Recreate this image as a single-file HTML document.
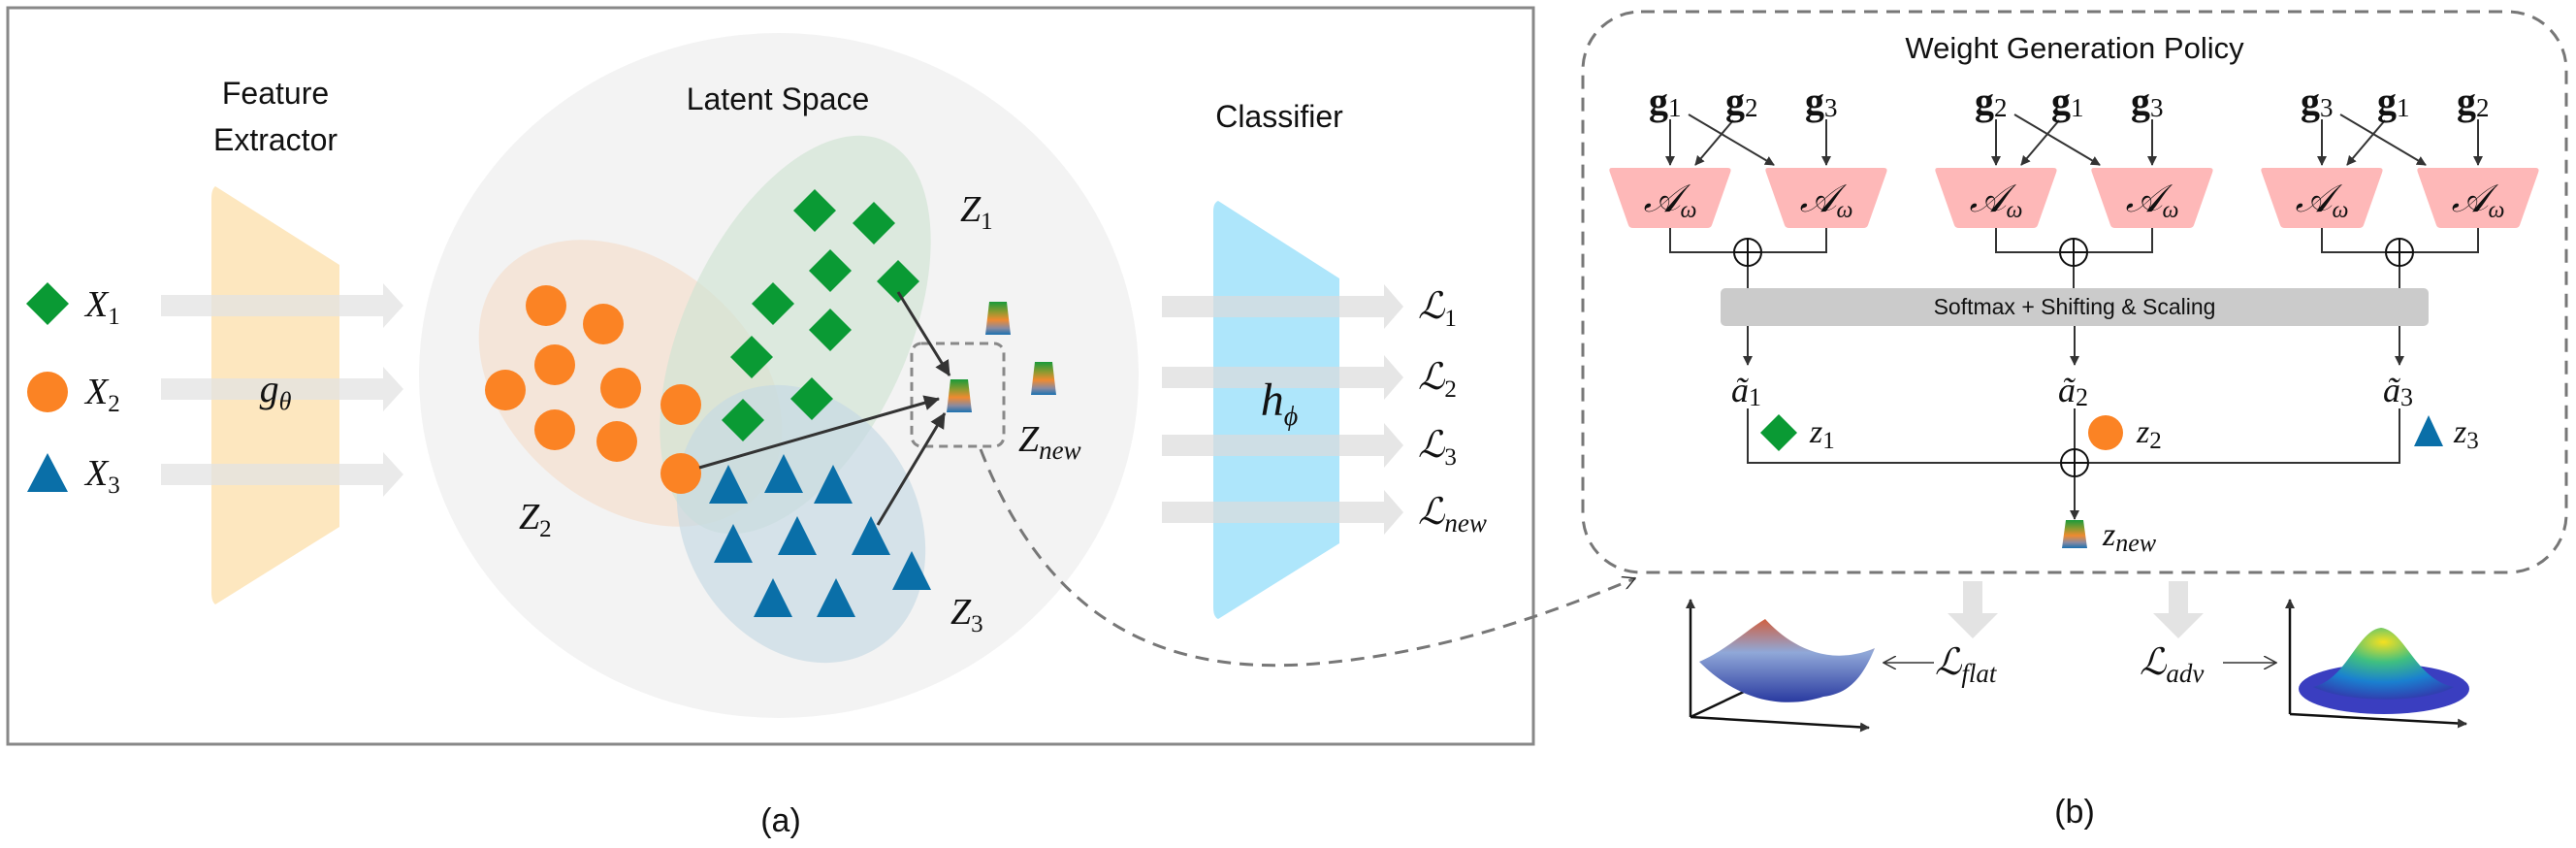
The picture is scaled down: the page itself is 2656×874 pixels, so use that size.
<!DOCTYPE html>
<html><head><meta charset="utf-8"><style>
html,body{margin:0;padding:0;background:#fff;width:2656px;height:874px;overflow:hidden}
svg{display:block}
.s{font-family:"Liberation Sans",sans-serif;fill:#111}
.m{font-family:"Liberation Serif",serif;font-style:italic;fill:#111}
.b{font-family:"Liberation Serif",serif;font-weight:bold;fill:#111}
</style></head><body>
<svg width="2656" height="874" viewBox="0 0 2656 874" xmlns="http://www.w3.org/2000/svg">
<defs>
<linearGradient id="zn" x1="0" y1="0" x2="0" y2="1">
<stop offset="0" stop-color="#1a9a3a"/><stop offset="0.3" stop-color="#8a9a30"/><stop offset="0.55" stop-color="#f08a30"/><stop offset="0.8" stop-color="#8a8aa0"/><stop offset="1" stop-color="#1a70b0"/></linearGradient>
<marker id="ah" markerWidth="10" markerHeight="10" refX="9" refY="5" orient="auto" markerUnits="userSpaceOnUse"><path d="M0,0 L10,5 L0,10 Z" fill="#333"/></marker>
<marker id="ah2" markerWidth="16" markerHeight="16" refX="15" refY="8" orient="auto" markerUnits="userSpaceOnUse"><path d="M0,0 L16,8 L0,16 Z" fill="#333"/></marker>
<marker id="oa" markerWidth="14" markerHeight="14" refX="13" refY="7" orient="auto" markerUnits="userSpaceOnUse"><path d="M0,0 L13,7 L0,14" fill="none" stroke="#333" stroke-width="1.5"/></marker>
<radialGradient id="bell" cx="0.5" cy="0.2" r="0.8"><stop offset="0" stop-color="#f5e020"/><stop offset="0.35" stop-color="#40c080"/><stop offset="0.7" stop-color="#1a80d0"/><stop offset="1" stop-color="#3040b0"/></radialGradient>
<linearGradient id="flat" x1="0" y1="0" x2="0" y2="1"><stop offset="0" stop-color="#d06040"/><stop offset="0.4" stop-color="#90a8d8"/><stop offset="1" stop-color="#2a3aa0"/></linearGradient>
</defs>

<rect x="8" y="8" width="1573" height="759" fill="#fff" stroke="#888" stroke-width="3"/>
<ellipse cx="803" cy="387" rx="371" ry="353" fill="#f3f3f3"/>
<path d="M222,192 L350,273 L350,543 L222,623 Q218,620 218,610 L218,205 Q218,195 222,192Z" fill="#fde7bf"/>
<text class="s" x="284" y="107" font-size="32" text-anchor="middle">Feature</text>
<text class="s" x="284" y="155" font-size="32" text-anchor="middle">Extractor</text>
<g fill="#e3e3e3" opacity="0.75">
<path d="M166,304 L395,304 L395,292 L416,315 L395,338 L395,326 L166,326Z"/>
<path d="M166,390 L395,390 L395,378 L416,401 L395,424 L395,412 L166,412Z"/>
<path d="M166,478 L395,478 L395,466 L416,489 L395,512 L395,500 L166,500Z"/>
</g>
<text class="m" x="284" y="414" font-size="40" text-anchor="middle">g<tspan font-size="26" dy="8">θ</tspan></text>
<path d="M49,291 L71,313 L49,335 L27,313Z" fill="#0a9a34"/>
<circle cx="49" cy="404" r="21" fill="#fb8324"/>
<path d="M49,467 L70,507 L28,507Z" fill="#0a6fa8"/>
<text class="m" x="88" y="326" font-size="38">X<tspan font-size="25" dy="8" font-style="normal">1</tspan></text>
<text class="m" x="88" y="416" font-size="38">X<tspan font-size="25" dy="8" font-style="normal">2</tspan></text>
<text class="m" x="88" y="500" font-size="38">X<tspan font-size="25" dy="8" font-style="normal">3</tspan></text>
<text class="s" x="802" y="113" font-size="32" text-anchor="middle">Latent Space</text>
<ellipse cx="650" cy="395" rx="175" ry="125" transform="rotate(40 650 395)" fill="#f5dcc8" opacity="0.6"/>
<ellipse cx="820" cy="345" rx="220" ry="115" transform="rotate(-65 820 345)" fill="#cfe4d2" opacity="0.65"/>
<ellipse cx="826" cy="540" rx="150" ry="120" transform="rotate(60 826 540)" fill="#c5d8e3" opacity="0.65"/>
<g fill="#fb8324">
<circle cx="563" cy="315" r="21"/><circle cx="622" cy="334" r="21"/><circle cx="572" cy="376" r="21"/><circle cx="521" cy="402" r="21"/><circle cx="640" cy="400" r="21"/><circle cx="572" cy="443" r="21"/><circle cx="636" cy="455" r="21"/><circle cx="702" cy="417" r="21"/><circle cx="702" cy="488" r="21"/>
</g>
<g fill="#0a9a34">
<path d="M840,195 l22,22 l-22,22 l-22,-22Z"/><path d="M901,208 l22,22 l-22,22 l-22,-22Z"/><path d="M856,257 l22,22 l-22,22 l-22,-22Z"/><path d="M926,268 l22,22 l-22,22 l-22,-22Z"/><path d="M797,291 l22,22 l-22,22 l-22,-22Z"/><path d="M856,318 l22,22 l-22,22 l-22,-22Z"/><path d="M775,346 l22,22 l-22,22 l-22,-22Z"/><path d="M837,389 l22,22 l-22,22 l-22,-22Z"/><path d="M766,411 l22,22 l-22,22 l-22,-22Z"/>
</g>
<g fill="#0a6fa8">
<path d="M751,479 l20,40 l-40,0Z"/><path d="M808,468 l20,40 l-40,0Z"/><path d="M859,479 l20,40 l-40,0Z"/><path d="M756,540 l20,40 l-40,0Z"/><path d="M822,532 l20,40 l-40,0Z"/><path d="M898,532 l20,40 l-40,0Z"/><path d="M940,568 l20,40 l-40,0Z"/><path d="M797,596 l20,40 l-40,0Z"/><path d="M862,596 l20,40 l-40,0Z"/>
</g>
<text class="m" x="990" y="228" font-size="38">Z<tspan font-size="25" dy="8" font-style="normal">1</tspan></text>
<text class="m" x="535" y="545" font-size="38">Z<tspan font-size="25" dy="8" font-style="normal">2</tspan></text>
<text class="m" x="980" y="643" font-size="38">Z<tspan font-size="25" dy="8" font-style="normal">3</tspan></text>
<text class="m" x="1050" y="465" font-size="38">Z<tspan font-size="27" dy="8">new</tspan></text>
<path d="M1020,311 L1038,311 L1042,345 L1016,345Z" fill="url(#zn)"/>
<path d="M1067,373 L1085,373 L1089,407 L1063,407Z" fill="url(#zn)"/>
<path d="M980,391 L998,391 L1002,425 L976,425Z" fill="url(#zn)"/>
<rect x="940" y="354" width="95" height="106" rx="10" fill="none" stroke="#888" stroke-width="3" stroke-dasharray="9,6"/>
<line x1="926" y1="301" x2="979" y2="387" stroke="#333" stroke-width="3" marker-end="url(#ah2)"/>
<line x1="721" y1="482" x2="968" y2="411" stroke="#333" stroke-width="3" marker-end="url(#ah2)"/>
<line x1="905" y1="541" x2="974" y2="426" stroke="#333" stroke-width="3" marker-end="url(#ah2)"/>
<text class="s" x="1319" y="131" font-size="32" text-anchor="middle">Classifier</text>
<path d="M1256,207 L1381,287 L1381,560 L1256,638 Q1251,636 1251,626 L1251,218 Q1251,209 1256,207Z" fill="#aee6fb"/>
<g fill="#dcdcdc" opacity="0.7">
<path d="M1198,305 L1427,305 L1427,293 L1447,316 L1427,339 L1427,327 L1198,327Z"/>
<path d="M1198,378 L1427,378 L1427,366 L1447,389 L1427,412 L1427,400 L1198,400Z"/>
<path d="M1198,448 L1427,448 L1427,436 L1447,459 L1427,482 L1427,470 L1198,470Z"/>
<path d="M1198,517 L1427,517 L1427,505 L1447,528 L1427,551 L1427,539 L1198,539Z"/>
</g>
<text class="m" x="1319" y="428" font-size="48" text-anchor="middle">h<tspan font-size="28" dy="10">ϕ</tspan></text>
<text class="m" x="1462" y="328" font-size="38">ℒ<tspan font-size="25" dy="8" font-style="normal">1</tspan></text>
<text class="m" x="1462" y="401" font-size="38">ℒ<tspan font-size="25" dy="8" font-style="normal">2</tspan></text>
<text class="m" x="1462" y="471" font-size="38">ℒ<tspan font-size="25" dy="8" font-style="normal">3</tspan></text>
<text class="m" x="1462" y="540" font-size="38">ℒ<tspan font-size="27" dy="8">new</tspan></text>
<text class="s" x="805" y="857" font-size="34" text-anchor="middle">(a)</text>

<path d="M1011,463 C1080,640 1200,700 1368,683 C1480,672 1580,640 1686,596" fill="none" stroke="#777" stroke-width="3" stroke-dasharray="14,9" marker-end="url(#oa)"/>

<rect x="1632" y="12" width="1014" height="578" rx="60" fill="none" stroke="#777" stroke-width="3" stroke-dasharray="14,9"/>
<text class="s" x="2139" y="60" font-size="31" text-anchor="middle">Weight Generation Policy</text>
<g id="grp">
<path d="M1662,173 L1781,173 Q1786,173 1784,178 L1765,232 Q1764,235 1760,235 L1684,235 Q1680,235 1679,232 L1660,178 Q1658,173 1662,173Z" fill="#feb8b8"/>
<path d="M1823,173 L1942,173 Q1947,173 1945,178 L1926,232 Q1925,235 1921,235 L1845,235 Q1841,235 1840,232 L1821,178 Q1819,173 1823,173Z" fill="#feb8b8"/>
<text class="m" x="1722" y="218" font-size="40" text-anchor="middle">𝒜<tspan font-size="24" dy="6">ω</tspan></text>
<text class="m" x="1883" y="218" font-size="40" text-anchor="middle">𝒜<tspan font-size="24" dy="6">ω</tspan></text>
<line x1="1722" y1="123" x2="1722" y2="170" stroke="#333" stroke-width="2" marker-end="url(#ah)"/>
<line x1="1883" y1="123" x2="1883" y2="170" stroke="#333" stroke-width="2" marker-end="url(#ah)"/>
<line x1="1741" y1="118" x2="1829" y2="170" stroke="#333" stroke-width="2" marker-end="url(#ah)"/>
<line x1="1787" y1="124" x2="1748" y2="170" stroke="#333" stroke-width="2" marker-end="url(#ah)"/>
<polyline points="1722,235 1722,260 1883,260 1883,235" fill="none" stroke="#333" stroke-width="2"/>
<line x1="1802" y1="260" x2="1802" y2="297" stroke="#333" stroke-width="2"/>
<ellipse cx="1802" cy="260" rx="14" ry="14" fill="#fff" stroke="#111" stroke-width="2"/>
<line x1="1788" y1="260" x2="1816" y2="260" stroke="#111" stroke-width="2"/>
<line x1="1802" y1="246" x2="1802" y2="274" stroke="#111" stroke-width="2"/>
</g>
<use href="#grp" transform="translate(336,0)"/>
<use href="#grp" transform="translate(672,0)"/>
<text class="b" x="1700" y="118" font-size="40">g<tspan font-weight="normal" font-size="27" dy="2">1</tspan></text>
<text class="b" x="1779" y="118" font-size="40">g<tspan font-weight="normal" font-size="27" dy="2">2</tspan></text>
<text class="b" x="1861" y="118" font-size="40">g<tspan font-weight="normal" font-size="27" dy="2">3</tspan></text>
<text class="b" x="2036" y="118" font-size="40">g<tspan font-weight="normal" font-size="27" dy="2">2</tspan></text>
<text class="b" x="2115" y="118" font-size="40">g<tspan font-weight="normal" font-size="27" dy="2">1</tspan></text>
<text class="b" x="2197" y="118" font-size="40">g<tspan font-weight="normal" font-size="27" dy="2">3</tspan></text>
<text class="b" x="2372" y="118" font-size="40">g<tspan font-weight="normal" font-size="27" dy="2">3</tspan></text>
<text class="b" x="2451" y="118" font-size="40">g<tspan font-weight="normal" font-size="27" dy="2">1</tspan></text>
<text class="b" x="2533" y="118" font-size="40">g<tspan font-weight="normal" font-size="27" dy="2">2</tspan></text>
<rect x="1774" y="297" width="730" height="39" rx="5" fill="#cbcbcb"/>
<text class="s" x="2139" y="324" font-size="23" text-anchor="middle">Softmax + Shifting &amp; Scaling</text>
<line x1="1802" y1="336" x2="1802" y2="376" stroke="#333" stroke-width="2" marker-end="url(#ah)"/>
<line x1="2139" y1="336" x2="2139" y2="376" stroke="#333" stroke-width="2" marker-end="url(#ah)"/>
<line x1="2474" y1="336" x2="2474" y2="376" stroke="#333" stroke-width="2" marker-end="url(#ah)"/>
<text class="m" x="1785" y="414" font-size="36">ã<tspan font-style="normal" font-size="26" dy="4">1</tspan></text>
<text class="m" x="2122" y="414" font-size="36">ã<tspan font-style="normal" font-size="26" dy="4">2</tspan></text>
<text class="m" x="2457" y="414" font-size="36">ã<tspan font-style="normal" font-size="26" dy="4">3</tspan></text>
<polyline points="1802,421 1802,477 2474,477 2474,421" fill="none" stroke="#333" stroke-width="2"/>
<line x1="2139" y1="421" x2="2139" y2="535" stroke="#333" stroke-width="2" marker-end="url(#ah)"/>
<circle cx="2139" cy="477" r="14" fill="#fff" stroke="#111" stroke-width="2"/>
<line x1="2125" y1="477" x2="2153" y2="477" stroke="#111" stroke-width="2"/>
<line x1="2139" y1="463" x2="2139" y2="491" stroke="#111" stroke-width="2"/>
<path d="M1834,427 l19,19 l-19,19 l-19,-19Z" fill="#0a9a34"/>
<circle cx="2171" cy="446" r="18" fill="#fb8324"/>
<path d="M2504,428 l15,32 l-30,0Z" fill="#0a6fa8"/>
<text class="m" x="1866" y="456" font-size="34">z<tspan font-style="normal" font-size="25" dy="6">1</tspan></text>
<text class="m" x="2203" y="456" font-size="34">z<tspan font-style="normal" font-size="25" dy="6">2</tspan></text>
<text class="m" x="2530" y="456" font-size="34">z<tspan font-style="normal" font-size="25" dy="6">3</tspan></text>
<path d="M2130,536 L2148,536 L2152,565 L2126,565Z" fill="url(#zn)"/>
<text class="m" x="2168" y="562" font-size="34">z<tspan font-size="26" dy="6">new</tspan></text>
<path d="M2024,599 L2044,599 L2044,632 L2060,632 L2034,658 L2008,632 L2024,632Z" fill="#e3e3e3"/>
<path d="M2236,599 L2256,599 L2256,632 L2272,632 L2246,658 L2220,632 L2236,632Z" fill="#e3e3e3"/>
<line x1="1743" y1="739" x2="1743" y2="618" stroke="#111" stroke-width="2.5" marker-end="url(#ah)"/>
<line x1="1743" y1="739" x2="1927" y2="750" stroke="#111" stroke-width="2.5" marker-end="url(#ah)"/>
<line x1="1743" y1="739" x2="1800" y2="712" stroke="#111" stroke-width="2.5"/>
<path d="M1752,682 C1780,670 1800,650 1820,638 C1840,660 1880,690 1933,668 C1920,700 1905,715 1880,718 C1850,728 1800,730 1752,682Z" fill="url(#flat)"/>
<line x1="1994" y1="683" x2="1942" y2="683" stroke="#333" stroke-width="1.5" marker-end="url(#oa)"/>
<text class="m" x="1995" y="695" font-size="38">ℒ<tspan font-size="27" dy="8">flat</tspan></text>
<text class="m" x="2206" y="695" font-size="38">ℒ<tspan font-size="27" dy="8">adv</tspan></text>
<line x1="2292" y1="683" x2="2347" y2="683" stroke="#333" stroke-width="1.5" marker-end="url(#oa)"/>
<line x1="2361" y1="736" x2="2361" y2="618" stroke="#111" stroke-width="2.5" marker-end="url(#ah)"/>
<line x1="2361" y1="736" x2="2543" y2="746" stroke="#111" stroke-width="2.5" marker-end="url(#ah)"/>
<ellipse cx="2458" cy="710" rx="88" ry="26" fill="#3a3ec0"/>
<path d="M2385,708 C2420,700 2430,650 2455,647 C2480,650 2490,700 2530,708 C2500,725 2420,725 2385,708Z" fill="url(#bell)"/>
<text class="s" x="2139" y="848" font-size="34" text-anchor="middle">(b)</text>
</svg>
</body></html>
